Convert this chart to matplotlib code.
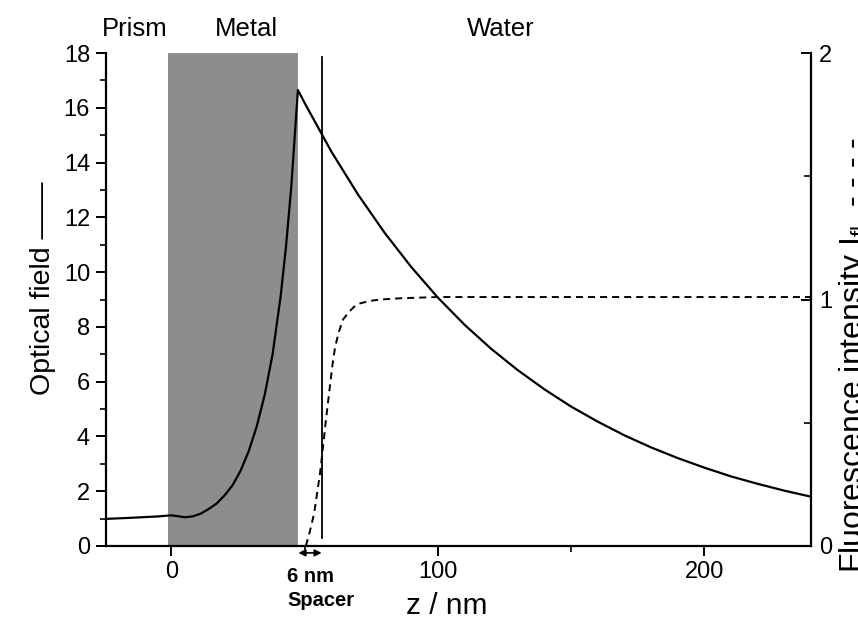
import matplotlib.pyplot as plt
from matplotlib.ticker import MultipleLocator

plt.rcParams['font.family'] = ['Liberation Sans', 'DejaVu Sans']
plt.rcParams['mathtext.fontset'] = 'custom'
plt.rcParams['mathtext.rm'] = 'Liberation Sans'
plt.rcParams['mathtext.it'] = 'Liberation Sans:italic'

# optical field (left axis)
z_field = [-24.5, -15, -5, 0, 3, 5, 8, 11, 14, 17, 20, 23, 26, 29, 32, 35, 38, 41, 43, 45, 47.5,
           50, 60, 70, 80, 90, 100, 110, 120, 130, 140, 150, 160, 170, 180, 190, 200,
           210, 220, 230, 240]
field = [0.99, 1.03, 1.08, 1.12, 1.08, 1.05, 1.08, 1.18, 1.35, 1.55, 1.85, 2.22, 2.75, 3.45, 4.35,
         5.5, 7.0, 9.1, 10.9, 13.1, 16.65,
         16.18, 14.41, 12.84, 11.44, 10.19, 9.07, 8.08, 7.20, 6.42, 5.72, 5.09, 4.54, 4.04, 3.60,
         3.21, 2.86, 2.54, 2.27, 2.02, 1.80]

# fluorescence intensity (right axis)
z_fl = [50.5, 52, 53.6, 55.8, 56.7, 57.9, 59.2, 60.4, 61.5, 62.9, 64.5, 66.7, 69, 71, 75, 78.5, 86, 100, 150, 200, 240]
fl = [0.0, 0.06, 0.133, 0.295, 0.38, 0.50, 0.62, 0.73, 0.81, 0.87, 0.92, 0.95, 0.975, 0.985, 0.995,
      1.0, 1.005, 1.01, 1.01, 1.01, 1.01]

metal = (-1.3, 47.7)
spacer_z = 56.4

fig = plt.figure(figsize=(8.58, 6.2), dpi=100)
ax = fig.add_axes([106 / 858, 1 - 546 / 620, 705 / 858, 493 / 620])

ax.axvspan(metal[0], metal[1], ymin=0, ymax=1, facecolor='#8d8d8d', edgecolor='none', zorder=0)
ax.plot(z_field, field, color='black', lw=1.6, zorder=3)
ax.plot([spacer_z, spacer_z], [0.3, 17.85], color='black', lw=1.3, zorder=3)

ax.set_xlim(-24.5, 240)
ax.set_ylim(0, 18)
ax.xaxis.set_major_locator(MultipleLocator(100))
ax.xaxis.set_minor_locator(MultipleLocator(50))
ax.yaxis.set_major_locator(MultipleLocator(2))
ax.yaxis.set_minor_locator(MultipleLocator(1))
ax.tick_params(which='major', direction='out', length=7, width=1.4, labelsize=17)
ax.tick_params(which='minor', direction='out', length=4, width=1.2)
ax.tick_params(axis='y', which='major', pad=4.5)
ax.tick_params(axis='x', which='major', pad=3.5)
ax.spines['top'].set_visible(False)
ax.spines['right'].set_visible(False)
for s in ['left', 'bottom']:
    ax.spines[s].set_linewidth(1.6)

ax2 = ax.twinx()
ax2.plot(z_fl, fl, color='black', lw=1.4, linestyle=(0, (3.6, 2.6)), zorder=3)
ax2.set_ylim(0, 2)
ax2.yaxis.set_major_locator(MultipleLocator(1))
ax2.yaxis.set_minor_locator(MultipleLocator(0.5))
ax2.tick_params(which='major', direction='in', length=7, width=1.4, labelsize=17, pad=6)
ax2.tick_params(which='minor', direction='in', length=5, width=1.2)
ax2.spines['top'].set_visible(False)
ax2.spines['left'].set_visible(False)
ax2.spines['bottom'].set_visible(False)
ax2.spines['right'].set_linewidth(1.6)

# region labels
fig.text(135 / 858, 1 - 29 / 620, 'Prism', ha='center', va='center', fontsize=18.5)
fig.text(246 / 858, 1 - 29 / 620, 'Metal', ha='center', va='center', fontsize=18.5)
fig.text(501 / 858, 1 - 29 / 620, 'Water', ha='center', va='center', fontsize=18.5)

fig.text(30 / 858, 1 - 288 / 620, 'Optical field \u2014\u2014', rotation=90,
         ha='left', va='center', fontsize=20.5)
# right label runs past the figure edge, as in the original
fig.text(837 / 858, 1 - 355 / 620, r'Fluorescence intensity I$_{\mathrm{fl}}$  - - - -', rotation=90,
         ha='left', va='center', fontsize=23)
fig.text(447 / 858, 1 - 606 / 620, 'z / nm', ha='center', va='center', fontsize=21.5)

# spacer marker
ax.annotate('', xy=(metal[1], -0.014), xytext=(spacer_z, -0.014),
            xycoords=('data', 'axes fraction'),
            arrowprops=dict(arrowstyle='<|-|>', color='black', lw=1.2,
                            mutation_scale=10, shrinkA=0, shrinkB=0),
            annotation_clip=False)
fig.text(287 / 858, 1 - 577 / 620, '6 nm', ha='left', va='center', fontsize=14.5, fontweight='bold')
fig.text(287 / 858, 1 - 600 / 620, 'Spacer', ha='left', va='center', fontsize=14.5, fontweight='bold')

plt.savefig('out.png', dpi=100)
plt.close()
